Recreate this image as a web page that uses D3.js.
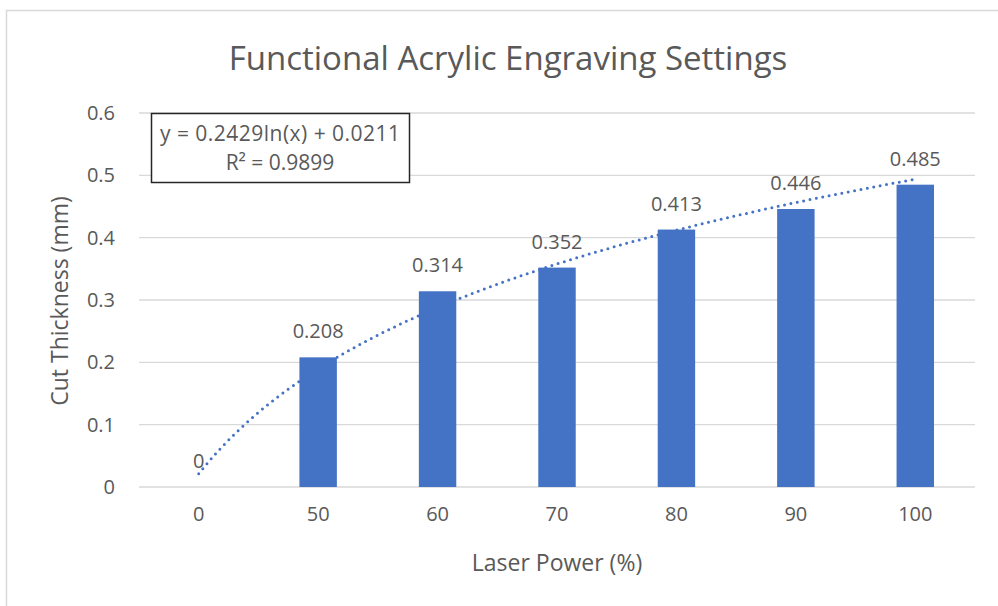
<!DOCTYPE html>
<html>
<head>
<meta charset="utf-8">
<script src="https://cdn.jsdelivr.net/npm/d3@7"></script>
<style>
  body { margin: 0; background: #fff; }
  text { font-family: "Open Sans", "Noto Sans", sans-serif; fill: #595959; }
</style>
</head>
<body>
<div id="chart"></div>
<script>
// Data
const power = ["0", "50", "60", "70", "80", "90", "100"];
const thickness = [0, 0.208, 0.314, 0.352, 0.413, 0.446, 0.485];
const yTicks = [0, 0.1, 0.2, 0.3, 0.4, 0.5, 0.6];
// Excel logarithmic trendline on category index 1..n
const trendA = 0.2429, trendB = 0.0211;
const trendLabel = ["y = 0.2429ln(x) + 0.0211", "R² = 0.9899"];

const width = 998, height = 606;
const blue = "#4472C4";

const svg = d3.select("#chart")
  .append("svg").attr("width", width).attr("height", height);

// chart frame
svg.append("rect")
  .attr("x", 6.5).attr("y", 10.5)
  .attr("width", width + 10).attr("height", height + 10)
  .attr("fill", "none").attr("stroke", "#d9d9d9").attr("stroke-width", 1.5);

const x = d3.scaleBand()
  .domain(power)
  .range([139, 975]);

const y = d3.scaleLinear()
  .domain([0, 0.6])
  .range([487, 113]);

// gridlines
svg.append("g")
  .selectAll("line")
  .data(yTicks)
  .join("line")
  .attr("x1", 139).attr("x2", 975)
  .attr("y1", d => y(d)).attr("y2", d => y(d))
  .attr("stroke", "#d9d9d9").attr("stroke-width", 1.3);

// y axis labels
const yAxis = svg.append("g")
  .attr("transform", "translate(139,0)")
  .call(d3.axisLeft(y).tickValues(yTicks).tickSize(0).tickPadding(24).tickFormat(d3.format("")));
yAxis.select(".domain").remove();
yAxis.selectAll("text").attr("font-size", 20).attr("fill", "#595959")
  .style("font-family", "'Open Sans', sans-serif");

// x axis labels
const xAxis = svg.append("g")
  .attr("transform", "translate(0,487)")
  .call(d3.axisBottom(x).tickSize(0).tickPadding(20));
xAxis.select(".domain").remove();
xAxis.selectAll("text").attr("font-size", 20).attr("fill", "#595959")
  .style("font-family", "'Open Sans', sans-serif");

// bars
const barW = x.bandwidth() / 3.19;
svg.selectAll("rect.bar")
  .data(thickness)
  .join("rect")
  .attr("class", "bar")
  .attr("x", (d, i) => x(power[i]) + x.bandwidth() / 2 - barW / 2)
  .attr("y", d => y(d))
  .attr("width", barW)
  .attr("height", d => y(0) - y(d))
  .attr("fill", blue);

// trendline
const trendPts = d3.range(1, power.length + 0.001, 0.05).map(t => [t, trendA * Math.log(t) + trendB]);
const xIdx = d3.scaleLinear()
  .domain([1, power.length])
  .range([x(power[0]) + x.bandwidth() / 2, x(power[power.length - 1]) + x.bandwidth() / 2]);
svg.append("path")
  .datum(trendPts)
  .attr("fill", "none")
  .attr("stroke", blue)
  .attr("stroke-width", 3)
  .attr("stroke-linecap", "round")
  .attr("stroke-dasharray", "0 6.5")
  .attr("d", d3.line().x(d => xIdx(d[0])).y(d => y(d[1])));

// data labels
svg.selectAll("text.lbl")
  .data(thickness)
  .join("text")
  .attr("class", "lbl")
  .attr("x", (d, i) => x(power[i]) + x.bandwidth() / 2)
  .attr("y", d => y(d) - 19)
  .attr("text-anchor", "middle")
  .attr("font-size", 20)
  .text(d => d);

// trendline label box
svg.append("rect")
  .attr("x", 151.5).attr("y", 113.5)
  .attr("width", 258).attr("height", 69)
  .attr("fill", "#fff").attr("stroke", "#262626").attr("stroke-width", 1.5);
svg.selectAll("text.eq")
  .data(trendLabel)
  .join("text")
  .attr("class", "eq")
  .attr("x", 280)
  .attr("y", (d, i) => 141 + i * 29)
  .attr("text-anchor", "middle")
  .attr("font-size", 21)
  .attr("textLength", (d, i) => i === 0 ? 240 : null)
  .text(d => d);

// title
svg.append("text")
  .attr("x", 508).attr("y", 70)
  .attr("text-anchor", "middle")
  .attr("font-size", 33)
  .text("Functional Acrylic Engraving Settings");

// axis titles
svg.append("text")
  .attr("transform", "translate(68,301) rotate(-90)")
  .attr("text-anchor", "middle")
  .attr("font-size", 23)
  .text("Cut Thickness (mm)");

svg.append("text")
  .attr("x", 557).attr("y", 571)
  .attr("text-anchor", "middle")
  .attr("font-size", 23)
  .text("Laser Power (%)");
</script>
</body>
</html>
